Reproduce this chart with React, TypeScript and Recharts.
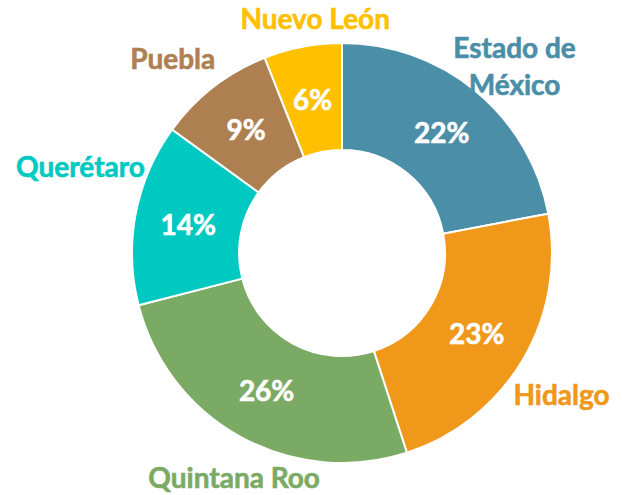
import React from 'react';
import { PieChart, Pie, Cell } from 'recharts';

const states = ['Estado de México', 'Hidalgo', 'Quintana Roo', 'Querétaro', 'Puebla', 'Nuevo León'];
const shares = [22, 23, 26, 14, 9, 6];

const COLORS = [
  '#4a8ea8', // teal blue
  '#f0981a', // orange
  '#7baa64', // green
  '#00c9c2', // turquoise
  '#ae8051', // brown
  '#ffc000', // yellow
];

// small hand nudges so the outside names sit where the original put them
const NUDGE: Record<string, [number, number]> = {
  'Estado de México': [10, 9],
  Hidalgo: [0, 11],
  'Quintana Roo': [15, 1],
  'Querétaro': [-11, -39],
  Puebla: [-13, 6],
  'Nuevo León': [21, 15],
};

const data = states.map((name, i) => ({ name, value: shares[i] }));

const RAD = Math.PI / 180;
const FONT = 'Lato, "Open Sans", sans-serif';

function wrap(name: string) {
  if (name.length <= 14) return [name];
  const cut = name.lastIndexOf(' ');
  return [name.slice(0, cut), name.slice(cut + 1)];
}

function renderLabel(props: any) {
  const { cx, cy, midAngle, innerRadius, outerRadius, value, name, index } = props;
  const color = COLORS[index % COLORS.length];
  const rIn = (innerRadius + outerRadius) / 2;
  const xi = cx + rIn * Math.cos(-midAngle * RAD);
  const yi = cy + rIn * Math.sin(-midAngle * RAD);
  const rOut = outerRadius + 45;
  const [nx, ny] = NUDGE[name] || [0, 0];
  const xo = cx + rOut * Math.cos(-midAngle * RAD) + nx;
  const yo = cy + rOut * Math.sin(-midAngle * RAD) + ny;
  const lines = wrap(name);
  const lh = 37;
  return (
    <g>
      <text x={xi} y={yi} fill="#fff" stroke="#fff" strokeWidth={0.6} textAnchor="middle"
        dominantBaseline="central" fontFamily={FONT} fontWeight={700} fontSize={28}>
        {`${value}%`}
      </text>
      <text fill={color} stroke={color} strokeWidth={0.6} textAnchor="middle"
        dominantBaseline="central" fontFamily={FONT} fontWeight={700} fontSize={28}>
        {lines.map((l, k) => (
          <tspan key={k} x={xo} y={yo + (k - (lines.length - 1) / 2) * lh}>{l}</tspan>
        ))}
      </text>
    </g>
  );
}

export default function App() {
  return (
    <div style={{ position: 'absolute', left: 0, top: 0, background: '#fff' }}>
      <PieChart width={622} height={495} margin={{ top: 0, right: 0, bottom: 0, left: 0 }}>
        <Pie
          data={data}
          dataKey="value"
          nameKey="name"
          cx={342}
          cy={253}
          innerRadius={103}
          outerRadius={210}
          startAngle={90}
          endAngle={-270}
          stroke="#fff"
          strokeWidth={2}
          label={renderLabel}
          labelLine={false}
          isAnimationActive={false}
        >
          {data.map((_, i) => (
            <Cell key={`cell-${i}`} fill={COLORS[i % COLORS.length]} />
          ))}
        </Pie>
      </PieChart>
    </div>
  );
}
